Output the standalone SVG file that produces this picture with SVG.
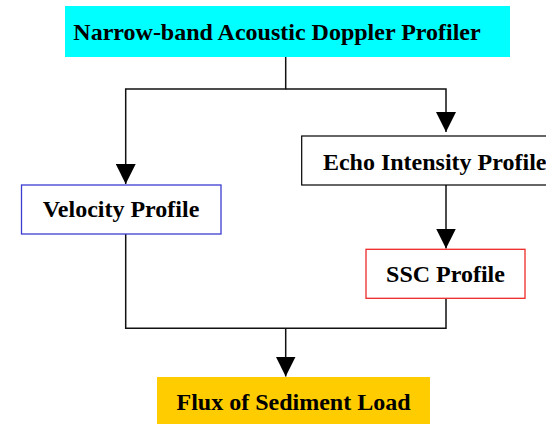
<svg xmlns="http://www.w3.org/2000/svg" width="546" height="424" viewBox="0 0 546 424">
<defs>
<style>
text{font-family:"Liberation Serif","Times New Roman",serif;font-weight:bold;font-size:24px;fill:#000;text-anchor:middle}
.c{fill:none;stroke:#111;stroke-width:1.5}
</style>
<marker id="ah" viewBox="0 0 20 20" markerWidth="20" markerHeight="20" refX="20" refY="10" markerUnits="userSpaceOnUse" orient="auto">
<path d="M0,0 L20,10 L0,20 Z" fill="#000"/>
</marker>
</defs>
<rect width="546" height="424" fill="#fff"/>
<g id="connectors">
<path class="c" d="M285.7,57 V89 H125.7 V184" marker-end="url(#ah)"/>
<path class="c" d="M285.7,89 H446 V132" marker-end="url(#ah)"/>
<path class="c" d="M446,185 V248.5" marker-end="url(#ah)"/>
<path class="c" d="M125.7,234 V328.3 H446 V298.5"/>
<path class="c" d="M285.7,328.3 V376.5" marker-end="url(#ah)"/>
</g>
<g id="adp">
<rect x="65" y="6" width="445" height="51" fill="#00ffff"/>
<text x="277" y="40">Narrow-band Acoustic Doppler Profiler</text>
</g>
<g id="echo">
<rect x="301.7" y="136" width="266" height="49" fill="#fff" stroke="#000" stroke-width="1.2"/>
<text x="434.7" y="170">Echo Intensity Profile</text>
</g>
<g id="velocity">
<rect x="21.5" y="185" width="199.5" height="49" fill="#fff" stroke="#3c3cd2" stroke-width="1.3"/>
<text x="121" y="217">Velocity Profile</text>
</g>
<g id="ssc">
<rect x="366" y="249.3" width="159" height="49" fill="#fff" stroke="#ee2828" stroke-width="1.3"/>
<text x="445.5" y="282">SSC Profile</text>
</g>
<g id="flux">
<rect x="157" y="377" width="273" height="50" fill="#ffcc00"/>
<text x="293.5" y="410">Flux of Sediment Load</text>
</g>
</svg>
